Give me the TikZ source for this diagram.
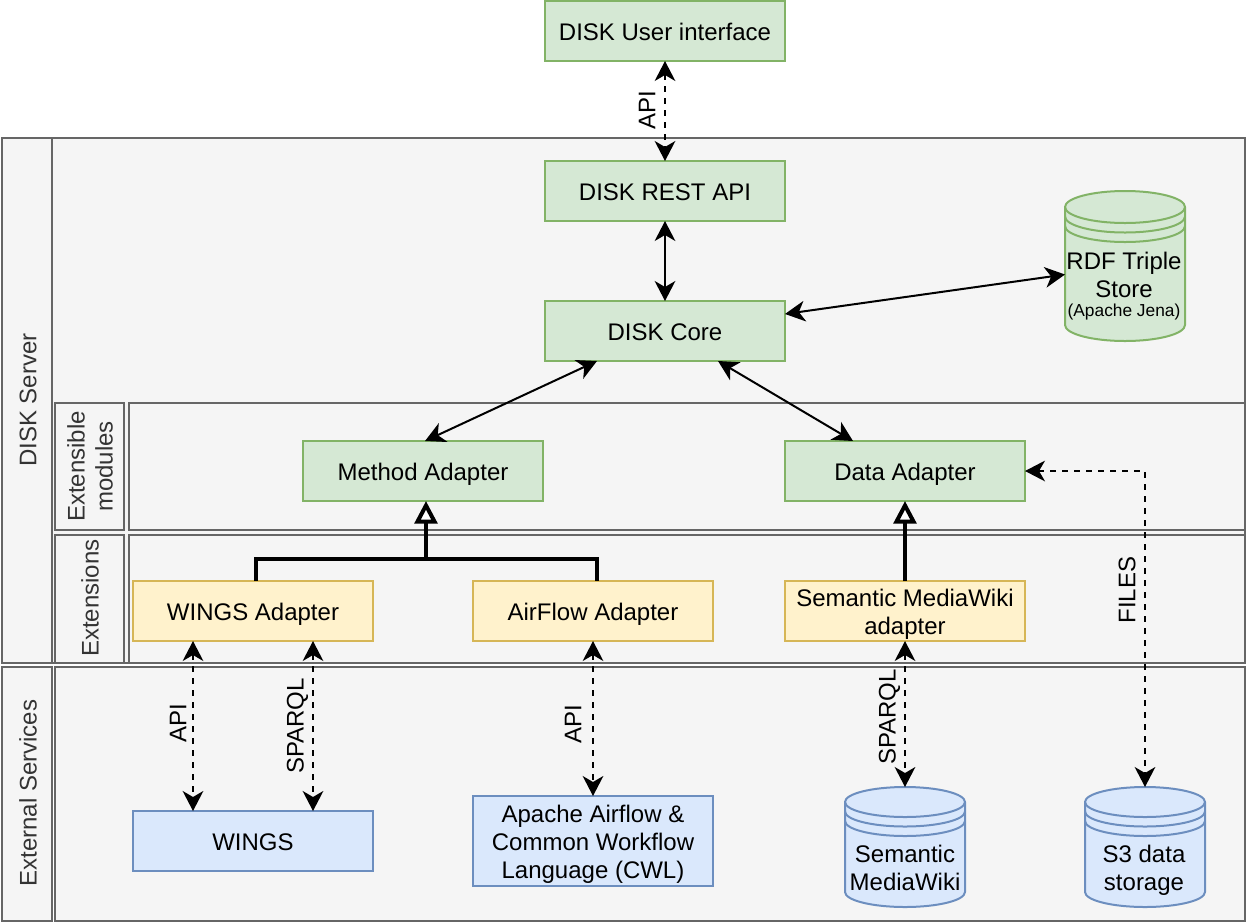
\documentclass[tikz,border=0pt]{standalone}
\usepackage{fontspec}
\setmainfont{Liberation Sans}
\usetikzlibrary{arrows.meta,calc}
\definecolor{panelfill}{HTML}{F5F5F5}
\definecolor{panelline}{HTML}{666666}
\definecolor{panelink}{HTML}{333333}
\definecolor{greenfill}{HTML}{D5E8D4}
\definecolor{greenline}{HTML}{82B366}
\definecolor{yellowfill}{HTML}{FFF2CC}
\definecolor{yellowline}{HTML}{D6B656}
\definecolor{bluefill}{HTML}{DAE8FC}
\definecolor{blueline}{HTML}{6C8EBF}
\newcommand{\topfix}{\rule{0pt}{17.5pt}}
\tikzset{
  x=0.75pt,y=-0.75pt,
  every node/.style={font=\fontsize{18pt}{21pt}\selectfont,align=center,inner sep=0pt,outer sep=0pt},
  panel/.style={draw=panelline,fill=panelfill,line width=1.5pt,minimum width=0pt},
  panellabel/.style={text=panelink,rotate=90},
  boxbase/.style={line width=1.5pt,minimum width=180pt,minimum height=45pt},
  greenbox/.style={boxbase,draw=greenline,fill=greenfill},
  yellowbox/.style={boxbase,draw=yellowline,fill=yellowfill},
  bluebox/.style={boxbase,draw=blueline,fill=bluefill},
  oneline/.style={text height=15pt,text depth=1.5pt},
  tiphead/.tip={Stealth[length=15pt,width=15.5pt,inset=4.5pt]},
  solidlink/.style={{tiphead}-{tiphead},line width=1.5pt,black},
  dashlink/.style={{tiphead}-{tiphead},line width=1.5pt,black,dash pattern=on 4.5pt off 4.5pt},
  inherit/.style={-{Triangle[open,fill=white,length=17pt,width=17pt,line width=3pt]},line width=3pt,black},
  inheritline/.style={line width=3pt,black},
  linklabel/.style={rotate=90},
}
\newcommand{\cylshape}[8]{% name x1 y1 x2 y2 ry fill line
  \node[minimum width=#4*0.75pt-#2*0.75pt,minimum height=#5*0.75pt-#3*0.75pt,anchor=north west] (#1) at (#2,#3) {};
  \draw[fill=#7,draw=#8,line width=1.5pt] (#2,#3+#6) -- (#2,#5-#6)
     arc[start angle=180,end angle=360,x radius=(#4-#2)*0.75pt/2,y radius=#6*0.75pt]
     -- (#4,#3+#6)
     arc[start angle=0,end angle=180,x radius=(#4-#2)*0.75pt/2,y radius=#6*0.75pt] -- cycle;
  \foreach \off in {0,9.5,19}{
    \draw[draw=#8,line width=1.5pt] (#2,#3+#6+\off)
      arc[start angle=180,end angle=360,x radius=(#4-#2)*0.75pt/2,y radius=#6*0.75pt];
  }
}
\begin{document}
\begin{tikzpicture}
\useasboundingbox (0,0) rectangle (1246,922);
% panels
\path[panel] (51.5,138) rectangle (1245,663);
\path[panel] (2,138) rectangle (51.5,663);
\node[panellabel] (serverlabeltext) at (28,400) {DISK Server};
\path[panel] (54.5,403) rectangle (124,530);
\path[panel] (128.5,403) rectangle (1245,530);
\path[panel] (54.5,535) rectangle (124,663);
\path[panel] (128.5,535) rectangle (1245,663);
\path[panel] (2,667) rectangle (51.5,920.5);
\path[panel] (54.5,667) rectangle (1245,920.5);
\node[panellabel] (modlabel) at (90,466.5) {Extensible\\modules};
\node[panellabel] (extlabel) at (90,598) {Extensions};
\node[panellabel] (svclabel) at (28,793) {External Services};
% boxes
\node[greenbox,oneline] (ui) at (665,31) {DISK User interface};
\node[greenbox,oneline] (rest) at (665,191) {DISK REST API};
\node[greenbox,oneline] (core) at (665,331) {DISK Core};
\node[greenbox,oneline] (method) at (423,471) {Method Adapter};
\node[greenbox,oneline] (data) at (905,471) {Data Adapter};
\node[yellowbox,oneline] (wingsad) at (253,611) {WINGS Adapter};
\node[yellowbox,oneline] (airad) at (593,611) {AirFlow Adapter};
\node[yellowbox] (smwad) at (905,611) {\topfix Semantic MediaWiki\\adapter};
\node[bluebox,oneline] (wings) at (253,841) {WINGS};
\node[bluebox,minimum height=67.5pt] (airflow) at (593,841) {\topfix Apache Airflow \&\\Common Workflow\\Language (CWL)};
% cylinders
\cylshape{rdf}{1065}{191}{1185}{341}{16}{greenfill}{greenline}
\node[text=black] (rdftext) at (1124,275) {RDF Triple\\Store};
\node[font=\fontsize{13pt}{15pt}\selectfont] (rdfsub) at (1124,312) {(Apache Jena)};
\cylshape{smw}{845}{787}{965}{907}{15}{bluefill}{blueline}
\node (smwtext) at (905,868) {Semantic\\MediaWiki};
\cylshape{sthree}{1085}{787}{1205}{907}{15}{bluefill}{blueline}
\node (sthreetext) at (1144,870) {S3 data\\storage};
% ports
\coordinate (coreeast) at (785,314);
\coordinate (rdfwest) at (1065,274.5);
\coordinate (coresw) at (597,361);
\coordinate (methodn) at (425,441);
\coordinate (corese) at (718,361);
\coordinate (datan) at (853,441);
\coordinate (methods) at (426,501);
\coordinate (bar) at (426,559);
\coordinate (barl) at (256,559);
\coordinate (barr) at (596.5,559);
\coordinate (wingsadtop) at (256,581);
\coordinate (airadtop) at (596.5,581);
\coordinate (datas) at (905,501);
\coordinate (wa) at (193,641);
\coordinate (wb) at (313,641);
\coordinate (wc) at (193,811);
\coordinate (wd) at (313,811);
\coordinate (filesfrom) at (1145,471);
% connectors
\draw[dashlink] (ui.south) -- (rest.north);
\draw[solidlink] (rest.south) -- (core.north);
\draw[solidlink] (coreeast) -- (rdfwest);
\draw[solidlink] (coresw) -- (methodn);
\draw[solidlink] (corese) -- (datan);
\draw[inheritline] (wingsadtop) -- (barl) -- (barr) -- (airadtop);
\draw[inherit] (bar) -- (methods);
\draw[inherit] (smwad.north) -- (datas);
\draw[dashlink] (wa) -- (wc);
\draw[dashlink] (wb) -- (wd);
\draw[dashlink] (airad.south) -- (airflow.north);
\draw[dashlink] (smwad.south) -- (smw.north);
\draw[dashlink] (data.east) -- (filesfrom) -- (sthree.north);
% labels
\node[linklabel] (apia) at (647,110) {API};
\node[linklabel] (apib) at (178,723) {API};
\node[linklabel] (sparqla) at (297.5,726) {SPARQL};
\node[linklabel] (apic) at (573,724) {API};
\node[linklabel] (sparqlb) at (889.5,717) {SPARQL};
\node[linklabel] (files) at (1127,590) {FILES};
\end{tikzpicture}
\end{document}
